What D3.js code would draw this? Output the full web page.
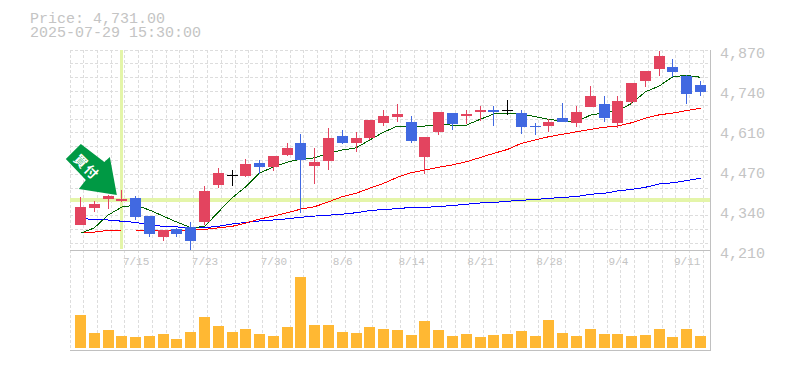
<!DOCTYPE html>
<html>
<head>
<meta charset="utf-8">
<script src="https://cdn.jsdelivr.net/npm/d3@7"></script>
<style>
html,body{margin:0;padding:0;background:#fff;}
svg{display:block;}
text{font-family:"Liberation Mono",monospace;font-size:15px;fill:#c4c4c4;}
</style>
</head>
<body>
<svg id="chart" width="785" height="370"></svg>
<script>
const dates=["7/9","7/10","7/11","7/14","7/15","7/16","7/17","7/18","7/22","7/23","7/24","7/25","7/28","7/29","7/30","7/31","8/1","8/4","8/5","8/6","8/7","8/8","8/12","8/13","8/14","8/15","8/18","8/19","8/20","8/21","8/22","8/25","8/26","8/27","8/28","8/29","9/1","9/2","9/3","9/4","9/5","9/8","9/9","9/10","9/11","9/12"];
const opens=[4292,4349,4379,4372,4382,4322,4253,4279,4286,4302,4425,4458,4454,4497,4484,4523,4563,4487,4504,4586,4563,4580,4629,4649,4632,4517,4599,4662,4652,4665,4672,4671,4662,4620,4619,4646,4629,4682,4692,4629,4698,4768,4807,4814,4784,4755];
const highs=[4385,4373,4392,4408,4388,4322,4276,4281,4302,4421,4481,4474,4509,4507,4520,4563,4593,4547,4613,4606,4599,4639,4672,4692,4652,4583,4665,4662,4672,4685,4685,4705,4672,4629,4642,4695,4685,4751,4718,4718,4761,4801,4867,4840,4788,4768];
const lows=[4292,4336,4345,4369,4309,4254,4240,4253,4210,4292,4415,4421,4451,4461,4471,4520,4333,4428,4474,4560,4533,4573,4619,4632,4563,4461,4590,4606,4626,4636,4619,4656,4593,4590,4599,4632,4616,4682,4632,4613,4692,4748,4784,4781,4692,4718];
const closes=[4352,4362,4388,4378,4320,4264,4276,4263,4240,4405,4464,4458,4494,4484,4520,4547,4507,4500,4580,4563,4580,4639,4652,4659,4570,4583,4665,4626,4659,4672,4665,4671,4616,4618,4632,4632,4665,4718,4646,4702,4761,4801,4850,4797,4725,4731];
const ma5=[4265,4283,4325,4352,4358,4342,4322,4302,4284,4287,4335,4382,4419,4464,4484,4500,4510,4514,4530,4540,4547,4573,4599,4619,4619,4619,4625,4622,4622,4641,4659,4659,4659,4650,4641,4635,4633,4655,4663,4669,4694,4732,4751,4782,4786,4780];
const ma25=[4266,4269,4275,4276,4276,4276,4276,4276,4276,4278,4283,4288,4299,4312,4322,4333,4345,4353,4369,4386,4397,4414,4430,4450,4465,4474,4483,4491,4501,4515,4529,4542,4562,4573,4584,4592,4600,4608,4615,4619,4630,4645,4656,4662,4670,4678];
const ma75=[4314,4311,4309,4305,4301,4294,4288,4286,4284,4284,4288,4296,4301,4306,4309,4313,4318,4322,4325,4328,4333,4340,4344,4346,4351,4351,4353,4357,4361,4365,4367,4371,4374,4377,4380,4384,4386,4394,4397,4405,4410,4417,4428,4432,4439,4447];
const volumes=[33,15,18,12,11,12,14,9,16,31,22,16,19,14,12,21,71,23,23,16,15,21,19,18,13,27,18,12,14,11,13,14,17,12,28,15,12,19,14,14,12,13,19,11,19,12];
const priceTicks=[4870,4738,4606,4474,4342,4210];
const priceTickLabels=["4,870","4,740","4,610","4,470","4,340","4,210"];
const dateTicks=["7/15","7/23","7/30","8/6","8/14","8/21","8/28","9/4","9/11"];
const headerLines=["Price: 4,731.00","2025-07-29 15:30:00"];
const signalDate="7/14";
const signalPrice=4375;
const signalLabel="買付";

const C={grid:"#dddddd",frame:"#c0c0c0",up:"#e3445f",down:"#4169e1",flat:"#000000",vol:"#ffb833",hl:"#e4f5a9",arrow:"#009944",ma5:"#006400",ma25:"#ff0000",ma75:"#0000ff"};
const svg=d3.select("#chart");
const L=70,R=710,T=50,B=250,VB=350;
const x=d3.scalePoint().domain(dates).range([80.5,700.5]);
const y=d3.scaleLinear().domain([4210,4870]).range([B,T]);
const v=d3.scaleLinear().domain([0,75]).range([348,273]);
const px=d=>Math.floor(x(d));
const snap=n=>Math.floor(n)+0.5;

// grid
const g=svg.append("g").attr("stroke",C.grid).attr("stroke-dasharray","3,2").attr("shape-rendering","crispEdges");
d3.range(15).forEach(k=>{const yy=snap(T+13.8*k);g.append("line").attr("x1",L).attr("x2",R).attr("y1",yy).attr("y2",yy);});
g.append("line").attr("x1",L+.5).attr("x2",L+.5).attr("y1",T).attr("y2",VB);
dates.forEach(d=>{const xx=snap(x(d)+3);g.append("line").attr("x1",xx).attr("x2",xx).attr("y1",T).attr("y2",VB);});

// highlights
svg.append("rect").attr("x",L).attr("width",R-L).attr("y",Math.round(y(signalPrice))-2).attr("height",4).attr("fill",C.hl);
svg.append("rect").attr("x",px(signalDate)-1).attr("width",3).attr("y",T).attr("height",B-T-1).attr("fill",C.hl);

// frame
const f=svg.append("g").attr("stroke",C.frame).attr("shape-rendering","crispEdges");
f.append("line").attr("x1",L).attr("x2",R+1).attr("y1",B+.5).attr("y2",B+.5);
f.append("line").attr("x1",L).attr("x2",R+1).attr("y1",VB+.5).attr("y2",VB+.5);
f.append("line").attr("x1",R+.5).attr("x2",R+.5).attr("y1",T).attr("y2",VB);

// moving averages
[[ma75,C.ma75,1],[ma25,C.ma25,1],[ma5,C.ma5,1]].forEach(([s,c,w])=>{
  svg.append("path").datum(s).attr("fill","none").attr("stroke",c).attr("stroke-width",w)
    .attr("shape-rendering","crispEdges")
    .attr("d",d3.line().x((_,i)=>x(dates[i])).y(p=>y(p)));
});

// candles
const cols=dates.map((_,i)=>closes[i]>opens[i]?C.up:closes[i]<opens[i]?C.down:C.flat);
const cg=svg.append("g").attr("shape-rendering","crispEdges");
dates.forEach((d,i)=>{
  const cx=px(d);
  cg.append("line").attr("x1",cx+.5).attr("x2",cx+.5).attr("y1",Math.round(y(highs[i]))).attr("y2",Math.round(y(lows[i]))).attr("stroke",cols[i]);
  const t=Math.round(y(Math.max(opens[i],closes[i]))),b=Math.round(y(Math.min(opens[i],closes[i])));
  cg.append("rect").attr("x",cx-5).attr("width",11).attr("y",t).attr("height",Math.max(1,b-t)).attr("fill",cols[i]);
});

// volumes
svg.append("g").attr("shape-rendering","crispEdges").selectAll("rect").data(volumes).join("rect")
  .attr("x",(_,i)=>px(dates[i])-5).attr("width",11).attr("y",p=>Math.round(v(p))).attr("height",p=>348-Math.round(v(p))).attr("fill",C.vol);

// axes
const ya=svg.append("g").attr("transform",`translate(720,3)`)
  .call(d3.axisRight(y).tickValues(priceTicks).tickSize(0).tickPadding(0).tickFormat((_,i)=>priceTickLabels[i]));
ya.select(".domain").remove();
ya.selectAll("text").attr("dy","0.32em").style("font-family",'"Liberation Mono",monospace').style("font-size","15px");
const xa=svg.append("g").attr("transform",`translate(0,257)`)
  .call(d3.axisBottom(x).tickValues(dateTicks).tickSize(0).tickPadding(0));
xa.select(".domain").remove();
xa.selectAll("text").attr("dy","0.71em").attr("text-anchor","middle").style("font-family",'"Liberation Mono",monospace').style("font-size","11px");

// header
headerLines.forEach((t,i)=>svg.append("text").attr("x",30).attr("y",23+14*i).text(t));

// signal arrow, shape given relative to its tip
const tip=[x(signalDate)-5,y(signalPrice)-5];
const shape=[[0,0],[-7,-38],[-12.5,-33],[-36,-51],[-51,-36],[-31,-15],[-38,-6]];
svg.append("path").attr("fill",C.arrow).attr("d",d3.line()(shape.map(p=>[tip[0]+p[0],tip[1]+p[1]]))+"Z");
svg.append("text").attr("transform",`translate(${tip[0]-30},${tip[1]-28}) rotate(45)`)
  .attr("text-anchor","middle").attr("dy","0.38em")
  .style("font-family",'"Noto Sans CJK JP",sans-serif').style("font-size","13px").style("font-weight","700").style("fill","#fff")
  .attr("letter-spacing","2").text(signalLabel);
</script>
</body>
</html>
